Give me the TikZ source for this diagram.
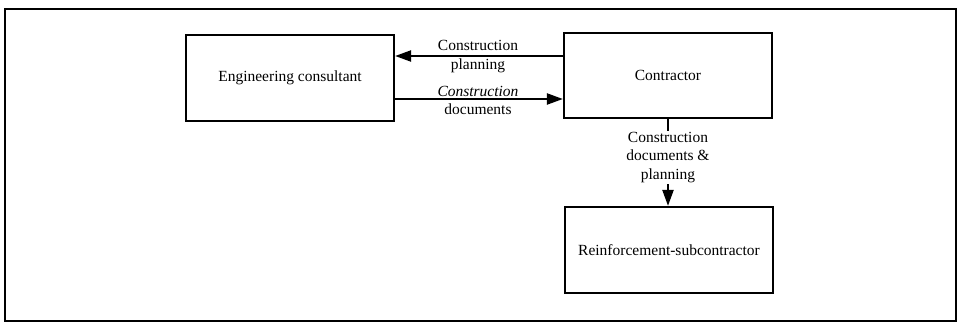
\documentclass[tikz,border=0pt]{standalone}
\usepackage{fontspec}
\setmainfont{Liberation Serif}
\usetikzlibrary{arrows.meta}
\begin{document}
\begin{tikzpicture}[x=1pt,y=-1pt,
  box/.style={draw=black,line width=2.2pt,minimum width=208pt,minimum height=86pt,
    inner sep=0pt,font=\fontsize{15.5}{18}\selectfont},
  flow/.style={line width=2.2pt,-{Triangle[length=16pt,width=11pt]}},
  lbl/.style={align=center,inner sep=0pt,font=\fontsize{15.5}{18.5}\selectfont}]
  % page area and outer frame
  \useasboundingbox (0,0) rectangle (959,323);
  \draw[line width=1.8pt] (5,9) rectangle (956,321);
  % parties
  \node[box] (eng) at (290,78) {Engineering consultant};
  \node[box,minimum height=85pt] (con) at (668,75.5) {Contractor};
  \node[box] (rein) at (669,250) {Reinforcement-subcontractor};
  % exchanges between consultant and contractor
  \draw[flow] ([yshift=19.5pt]con.west) -- ([yshift=19.5pt]con.west -| eng.east);
  \draw[flow] ([yshift=-23.5pt]con.west -| eng.east) -- ([yshift=-23.5pt]con.west);
  \node[lbl] (plan) at (478,56.5) {Construction\\planning};
  \node[lbl] (docs) at (478,100.5) {\textit{Construction}\\documents};
  % hand-over to the subcontractor
  \draw[flow] (con.south -| 668,0) -- (rein.north -| 668,0);
  \node[lbl,fill=white,inner sep=1pt] (sub) at (668,157.5) {Construction\\documents \&\\planning};
\end{tikzpicture}
\end{document}
